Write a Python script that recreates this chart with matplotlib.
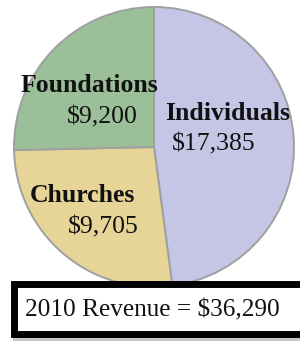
# LIBRARIES

import matplotlib
matplotlib.use("Agg")
import matplotlib.pyplot as plt
from matplotlib.patches import Rectangle


# DATA

sources = ["Individuals", "Churches", "Foundations"]
amounts = [17385, 9705, 9200]
colors = ["#C5C6E6", "#E6D597", "#9BBF98"]
total = sum(amounts)
year = 2010


# FIGURE (axes in pixel units, y measured up from bottom)

W, H = 300, 341
fig = plt.figure(figsize=(W / 100, H / 100), dpi=100)
ax = fig.add_axes([0, 0, 1, 1])
ax.set_xlim(0, W)
ax.set_ylim(0, H)
ax.set_aspect("equal")
ax.axis("off")


def py(y):
    # pixel row (from top) -> axes y
    return H - y


# PIE

ax.pie(amounts, colors=colors, startangle=90, counterclock=False,
       center=(154, py(147)), radius=140,
       wedgeprops=dict(edgecolor="#A0A0A0", linewidth=1.4))
ax.set_xlim(0, W)
ax.set_ylim(0, H)


# LABELS

serif = ["Liberation Serif", "DejaVu Serif"]
fs = 18.5

label_pos = {
    "Individuals": ((165, 120), (172, 150)),
    "Churches": ((30, 202), (68, 233)),
    "Foundations": ((21, 92), (67, 123)),
}

for name, amt in zip(sources, amounts):
    (nx, ny), (vx, vy) = label_pos[name]
    ax.text(nx, py(ny), name, family=serif, fontsize=fs, fontweight="bold",
            ha="left", va="baseline", color="#111111")
    ax.text(vx, py(vy), f"${amt:,}", family=serif, fontsize=fs,
            ha="left", va="baseline", color="#111111")


# TOTAL BOX

ax.add_patch(Rectangle((13, py(341)), 320, 50, facecolor="#C8C8C8",
                       edgecolor="none", zorder=3))
ax.add_patch(Rectangle((13.5, py(333.5)), 320, 50, facecolor="white",
                       edgecolor="black", linewidth=5.0, zorder=4))
ax.text(25, py(316), f"{year} Revenue = ${total:,}", family=serif,
        fontsize=18.2, ha="left", va="baseline", color="#111111", zorder=5)


fig.savefig("out.png", dpi=100)
